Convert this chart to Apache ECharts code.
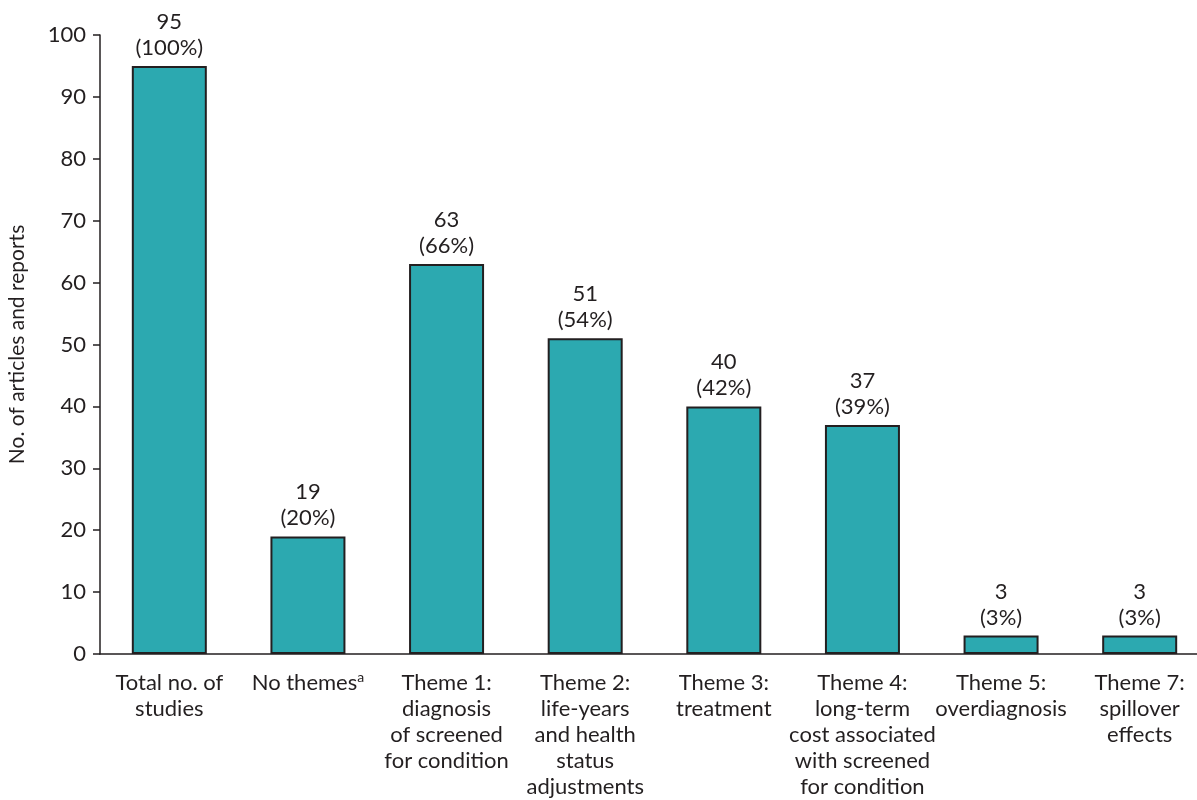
<!DOCTYPE html>
<html><head><meta charset="utf-8">
<script src="https://cdn.jsdelivr.net/npm/echarts@6/dist/echarts.min.js"></script>
<style>html,body{margin:0;padding:0;background:#fff}#c{width:1197px;height:800px}</style>
</head><body><div id="c"></div>
<script>
const categories = ['Total no. of\nstudies', 'No themes{sup|a}', 'Theme 1:\ndiagnosis\nof screened\nfor condition', 'Theme 2:\nlife-years\nand health\nstatus\nadjustments', 'Theme 3:\ntreatment', 'Theme 4:\nlong-term\ncost associated\nwith screened\nfor condition', 'Theme 5:\noverdiagnosis', 'Theme 7:\nspillover\neffects'];
const counts = [95, 19, 63, 51, 40, 37, 3, 3];
const percents = [100, 20, 66, 54, 42, 39, 3, 3];
const yTicks = {min: 0, max: 100, interval: 10};

const chart = echarts.init(document.getElementById('c'));
const font = 'Lato, "Noto Sans", sans-serif';
chart.setOption({
  animation: false,
  grid: {left: 100, width: 1109, top: 35, height: 619, containLabel: false, outerBoundsMode: 'none'},
  xAxis: {
    type: 'category', data: categories,
    axisLine: {lineStyle: {color: '#231f20', width: 1.5}},
    axisTick: {alignWithLabel: true, length: 7, lineStyle: {color: '#231f20', width: 1.5}},
    axisLabel: {interval: 0, color: '#231f20', fontFamily: font, fontSize: 22, lineHeight: 26, margin: 16,
      rich: {sup: {fontSize: 14, verticalAlign: 'top', lineHeight: 26, padding: [0,0,12,0], color: '#231f20', fontFamily: font}}}
  },
  yAxis: {
    type: 'value', min: yTicks.min, max: yTicks.max, interval: yTicks.interval,
    name: 'No. of articles and reports', nameLocation: 'middle', nameGap: 72, nameRotate: 90,
    nameTextStyle: {color: '#231f20', fontFamily: font, fontSize: 21},
    splitLine: {show: false},
    axisLine: {show: true, lineStyle: {color: '#231f20', width: 1.5}},
    axisTick: {show: true, length: 7, lineStyle: {color: '#231f20', width: 1.5}},
    axisLabel: {color: '#231f20', fontFamily: font, fontSize: 22, margin: 14}
  },
  series: [{
    type: 'bar', barWidth: 75,
    data: counts,
    itemStyle: {color: '#2ca9b0', borderColor: '#231f20', borderWidth: 2},
    label: {show: true, position: 'top', distance: 5, color: '#231f20', fontFamily: font, fontSize: 22, lineHeight: 26,
      formatter: p => counts[p.dataIndex] + '\n(' + percents[p.dataIndex] + '%)'}
  }]
});
</script></body></html>
